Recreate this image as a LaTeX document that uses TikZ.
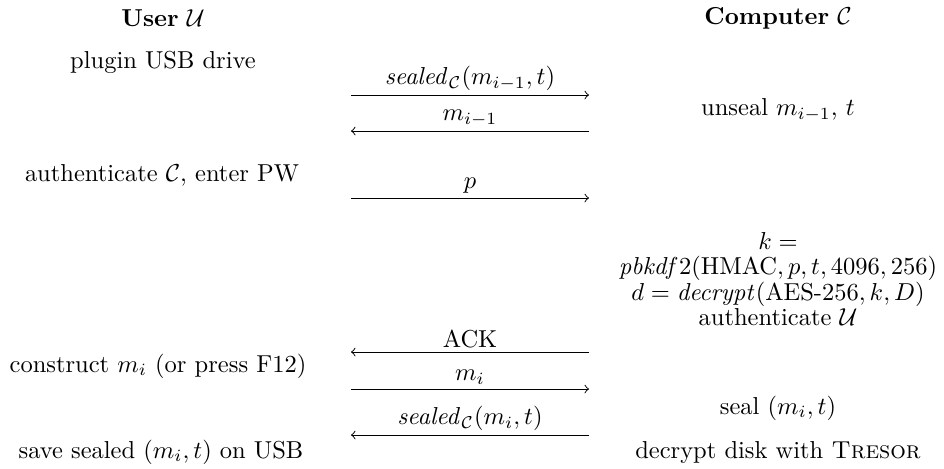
\documentclass[tikz,border=0pt]{standalone}
\usepackage{amsmath}
\begin{document}
\begin{tikzpicture}[x=0.4082pt, y=-0.4082pt,
  party/.style={inner sep=0pt, anchor=center},
  step label/.style={inner sep=0pt, anchor=center},
  msg/.style={->, thin},
  msglabel/.style={midway, above, inner sep=1.6pt}]
  \useasboundingbox (0,0) rectangle (944,468);

  % column headings
  \node[party] (user) at (163,18) {\textbf{User} $\mathcal{U}$};
  \node[party] (comp) at (778,18) {\textbf{Computer} $\mathcal{C}$};

  % actions of the user
  \node[step label] (plug) at (163,62) {plugin USB drive};
  \node[step label] (auth) at (162,175) {authenticate $\mathcal{C}$, enter PW};
  \node[step label] (cons) at (158,366) {construct $m_i$ (or press F12)};
  \node[step label] (save) at (161,452) {save sealed $(m_i, t)$ on USB};

  % actions of the computer
  \node[step label, align=center] (kdf) at (778,279)
    {$k =$\\[-1.6pt]
     $\mathit{pbkdf}2(\text{HMAC}, p, t, 4096, 256)$\\[-1.6pt]
     $d = \mathit{decrypt}(\text{AES-256}, k, D)$\\[-1.6pt]
     authenticate $\mathcal{U}$};
  \node[step label] (unseal) at (778,110) {unseal $m_{i-1}$, $t$};
  \node[step label] (seal) at (778,408) {seal $(m_i, t)$};
  \node[step label] (dec) at (778,452) {decrypt disk with \textsc{Tresor}};

  % message end points
  \coordinate (a1l) at (351,95);  \coordinate (a1r) at (589,95);
  \coordinate (a2l) at (351,131); \coordinate (a2r) at (589,131);
  \coordinate (a3l) at (351,198); \coordinate (a3r) at (589,198);
  \coordinate (a4l) at (351,352); \coordinate (a4r) at (589,352);
  \coordinate (a5l) at (351,389); \coordinate (a5r) at (589,389);
  \coordinate (a6l) at (351,435); \coordinate (a6r) at (589,435);

  % messages
  \draw[msg] (a1l) -- (a1r) node[msglabel] {$\mathit{sealed}_{\mathcal{C}}(m_{i-1}, t)$};
  \draw[msg] (a2r) -- (a2l) node[msglabel] {$m_{i-1}$};
  \draw[msg] (a3l) -- (a3r) node[msglabel] {$p$};
  \draw[msg] (a4r) -- (a4l) node[msglabel] {ACK};
  \draw[msg] (a5l) -- (a5r) node[msglabel] {$m_i$};
  \draw[msg] (a6r) -- (a6l) node[msglabel] {$\mathit{sealed}_{\mathcal{C}}(m_i, t)$};
\end{tikzpicture}
\end{document}
